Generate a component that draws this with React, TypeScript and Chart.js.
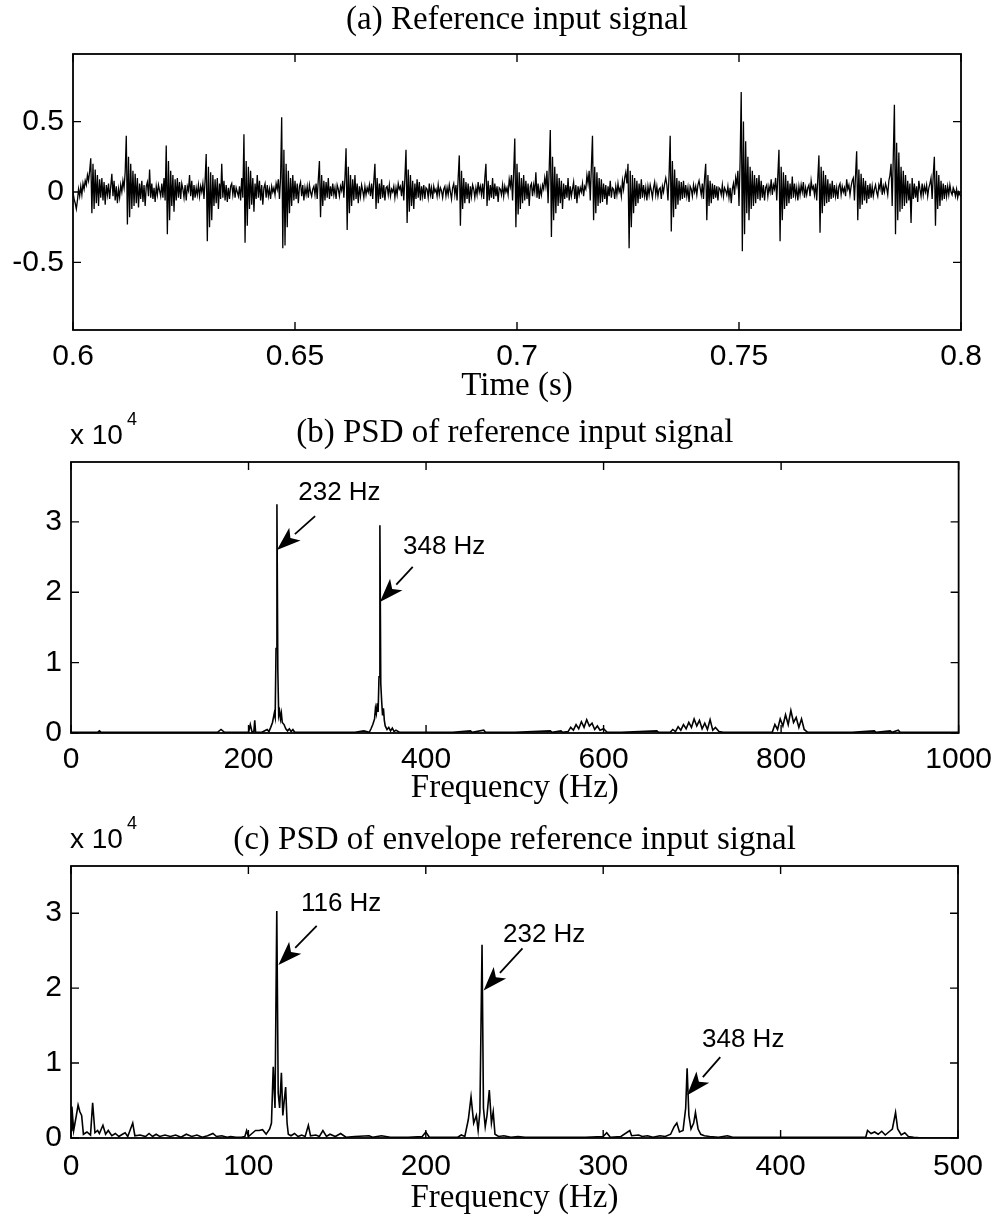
import React, { useEffect, useRef } from 'react';
import { Chart, registerables } from 'chart.js';

Chart.register(...registerables);

// ---------- (a) time signal ----------
const timeStart = 0.6;
const timeEnd = 0.8;
const signalA = [
  0.0, -0.05, -0.08, -0.12, -0.06, 0.02, -0.03, 0.04, -0.02, 0.06, 0.02, 0.08, 0.05, 0.12, 0.08, 0.15,
  0.24,
  -0.15, 0.2, -0.12, 0.16, -0.08, 0.12, -0.1, 0.09, -0.04, 0.1, -0.06, 0.07, -0.09, 0.05, -0.02, 0.06, -0.05, 0.04, 0.13, -0.03, 0.08, -0.06, 0.04, -0.08, 0.02, -0.04, 0.05, 0.0, 0.08, 0.03, 0.14,
  0.40,
  -0.23, 0.25, -0.18, 0.2, -0.12, 0.15, -0.1, 0.13, -0.08, 0.1, -0.11, 0.06, -0.05, 0.08, -0.07, 0.05, -0.1, 0.04, 0.07, -0.03, 0.16, -0.04, 0.06, -0.05, 0.03, -0.07, 0.04, -0.02, 0.05, 0.01, -0.03, 0.06, -0.04, 0.1, -0.06,
  0.33,
  -0.30, 0.22, -0.2, 0.15, -0.1, 0.12, -0.14, 0.09, -0.06, 0.1, -0.04, 0.07, -0.05, 0.06, 0.02, -0.04, 0.05, -0.06, 0.04, 0.01, 0.12, -0.03, 0.08, -0.06, 0.05, -0.04, 0.03, -0.02, 0.05, -0.03, 0.04, 0.0, 0.06, -0.05, 0.08,
  0.27,
  -0.35, 0.18, -0.25, 0.14, -0.2, 0.12, -0.1, 0.09, -0.08, 0.1, -0.12, 0.06, -0.05, 0.2, -0.04, 0.08, -0.06, 0.05, -0.07, 0.03, -0.05, 0.04, 0.06, -0.02, 0.05, -0.04, 0.03, 0.0, -0.03, 0.04, -0.06, 0.1, -0.04,
  0.41,
  -0.36, 0.22, -0.24, 0.18, -0.12, 0.15, -0.09, 0.1, -0.14, 0.06, -0.05, 0.12, -0.04, 0.08, -0.06, 0.05, -0.09, 0.03, 0.06, -0.04, 0.05, -0.03, 0.02, -0.05, 0.04, 0.0, 0.03, -0.02, 0.06, 0.02, 0.09, -0.05, 0.1,
  0.53,
  -0.40, 0.3, -0.38, 0.2, -0.25, 0.15, -0.15, 0.1, -0.1, 0.12, -0.06, 0.08, -0.05, 0.06, -0.08, 0.04, 0.07, -0.03, 0.05, -0.06, 0.03, -0.02, 0.04, -0.04, 0.05, 0.0, -0.03, 0.02, 0.04, -0.02, 0.06, -0.05, 0.09,
  0.22,
  -0.18, 0.12, -0.1, 0.08, -0.06, 0.07, -0.04, 0.1, -0.05, 0.04, -0.03, 0.06, -0.02, 0.03, -0.05, 0.05, 0.02, -0.03, 0.04, 0.01, 0.08, -0.04, 0.1,
  0.31,
  -0.27, 0.18, -0.15, 0.12, -0.1, 0.09, -0.06, 0.12, -0.05, 0.06, -0.08, 0.04, -0.03, 0.05, 0.01, -0.04, 0.04, -0.02, 0.03, 0.0, 0.05, -0.03, 0.06, -0.05, 0.08,
  0.2,
  -0.12, 0.1, -0.08, 0.06, -0.05, 0.09, -0.04, 0.05, -0.06, 0.03, 0.04, -0.02, 0.05, -0.03, 0.02, 0.0, 0.04, -0.04, 0.03, -0.02, 0.06, 0.02, 0.04, -0.03, 0.08, -0.06, 0.1,
  0.30,
  -0.22, 0.16, -0.14, 0.12, -0.1, 0.08, -0.12, 0.06, -0.05, 0.09, -0.04, 0.07, -0.06, 0.04, -0.03, 0.05, -0.05, 0.03, 0.02, -0.04, 0.06, -0.02, 0.03, -0.05, 0.04, 0.0, 0.02, -0.03, 0.05, -0.02, 0.03, 0.01, -0.04, 0.02, 0.04, -0.03, 0.03, -0.02, 0.05, 0.0, -0.05, 0.03, 0.06, -0.02, 0.05, -0.06, 0.1,
  0.26,
  -0.24, 0.15, -0.12, 0.1, -0.08, 0.07, -0.05, 0.06, -0.08, 0.04, -0.03, 0.05, 0.02, -0.04, 0.03, -0.02, 0.07, 0.0, 0.04, -0.02, 0.06, -0.05, 0.1,
  0.2,
  -0.1, 0.08, -0.06, 0.05, -0.04, 0.1, -0.05, 0.06, -0.03, 0.04, -0.07, 0.03, 0.02, -0.02, 0.05, -0.03, 0.04, 0.0, 0.03, -0.02, 0.09, 0.04, 0.12, -0.06, 0.14,
  0.38,
  -0.25, 0.2, -0.16, 0.14, -0.12, 0.1, -0.08, 0.12, -0.06, 0.08, -0.05, 0.06, -0.1, 0.04, 0.06, -0.03, 0.05, 0.0, 0.14, -0.04, 0.06, -0.05, 0.03, -0.02, 0.05, 0.02, 0.1, 0.04, 0.15, -0.08, 0.16,
  0.44,
  -0.32, 0.25, -0.2, 0.18, -0.15, 0.13, -0.1, 0.1, -0.08, 0.08, -0.12, 0.06, -0.05, 0.05, -0.04, 0.1, -0.06, 0.04, -0.03, 0.02, 0.07, -0.05, 0.05, -0.08, 0.04, -0.02, 0.03, 0.0, 0.06, -0.03, 0.04, 0.02, 0.12, 0.06, 0.15, -0.06, 0.18,
  0.40,
  -0.2, 0.18, -0.15, 0.14, -0.1, 0.1, -0.08, 0.09, -0.07, 0.06, -0.05, 0.05, -0.09, 0.04, -0.03, 0.08, -0.04, 0.03, 0.02, -0.05, 0.04, -0.02, 0.06, 0.0, 0.03, -0.03, 0.08, 0.02, 0.1, 0.14, 0.06,
  0.2,
  -0.40, 0.15, -0.25, 0.12, -0.15, 0.1, -0.1, 0.08, -0.08, 0.06, -0.05, 0.09, -0.04, 0.05, -0.03, 0.03, -0.06, 0.04, -0.02, 0.05, 0.01, -0.04, 0.03, 0.07, -0.02, 0.04, -0.03, 0.02, 0.03, -0.05, 0.04, 0.0, 0.06, 0.1, 0.05, -0.06, 0.12,
  0.40,
  -0.28, 0.22, -0.18, 0.16, -0.12, 0.1, -0.09, 0.08, -0.06, 0.07, -0.05, 0.08, -0.04, 0.05, -0.03, 0.03, -0.07, 0.04, 0.02, -0.03, 0.05, 0.0, 0.04, -0.02, 0.05, 0.08, 0.03, -0.02, 0.06, -0.05, 0.1,
  0.2,
  -0.2, 0.12, -0.1, 0.08, -0.08, 0.06, -0.05, 0.05, -0.04, 0.04, -0.06, 0.03, 0.02, -0.02, 0.05, -0.03, 0.03, 0.01, -0.02, 0.04, -0.04, 0.03, -0.08, 0.02, 0.06, -0.02, 0.1, 0.05, 0.15, -0.1, 0.22,
  0.71,
  -0.42, 0.5, -0.3, 0.36, -0.15, 0.25, -0.2, 0.18, -0.12, 0.15, -0.1, 0.12, -0.08, 0.1, -0.05, 0.12, -0.06, 0.08, -0.04, 0.05, -0.06, 0.03, 0.05, -0.03, 0.04, 0.0, 0.09, -0.02, 0.05, 0.02, 0.1, -0.06, 0.12,
  0.30,
  -0.35, 0.18, -0.2, 0.14, -0.12, 0.12, -0.1, 0.08, -0.08, 0.06, -0.05, 0.11, -0.04, 0.06, -0.03, 0.03, -0.06, 0.04, -0.02, 0.05, 0.0, 0.07, -0.04, 0.03, -0.02, 0.03, 0.05, -0.03, 0.08, 0.02, 0.04, -0.02, 0.06, -0.06, 0.1,
  0.26,
  -0.29, 0.18, -0.15, 0.15, -0.1, 0.12, -0.08, 0.09, -0.07, 0.06, -0.05, 0.08, -0.04, 0.05, -0.03, 0.03, -0.05, 0.04, 0.06, -0.02, 0.04, 0.0, 0.03, -0.03, 0.09, 0.02, 0.05, -0.02, 0.04, 0.08, 0.1, -0.06, 0.12,
  0.29,
  -0.2, 0.16, -0.12, 0.13, -0.09, 0.1, -0.06, 0.08, -0.08, 0.05, -0.05, 0.06, -0.04, 0.04, -0.03, 0.02, 0.05, 0.0, -0.03, 0.05, 0.02, 0.1, -0.02, 0.04, 0.0, 0.06, 0.03, -0.02, 0.08, 0.12, 0.2, -0.1, 0.25,
  0.62,
  -0.30, 0.35, -0.2, 0.28, -0.14, 0.18, -0.12, 0.15, -0.1, 0.12, -0.08, 0.08, -0.06, 0.06, -0.22, 0.1, -0.05, 0.06, -0.04, 0.04, -0.07, 0.08, 0.02, -0.03, 0.06, -0.02, 0.04, 0.0, 0.05, -0.03, 0.03, 0.06, 0.1, -0.05, 0.12,
  0.25,
  -0.24, 0.15, -0.12, 0.12, -0.1, 0.08, -0.06, 0.06, -0.05, 0.05, -0.03, 0.04, -0.02, 0.05, 0.0, -0.02, 0.03, 0.01, -0.03, 0.02, -0.04, 0.0, -0.02, -0.03,
];
const timeTicks = [0.6, 0.65, 0.7, 0.75, 0.8];
const ampTicks = [-0.5, 0, 0.5];

// ---------- (b) PSD of reference signal (x 10^4) ----------
const freqB = [
  0, 10, 20, 30, 32, 34, 50, 80, 110, 140,
  165, 169, 173, 190, 200, 202, 204, 206, 207, 208,
  215, 221, 223, 225, 227, 229, 230, 231, 232, 233,
  234, 235, 236, 237, 238, 240, 242, 244, 246, 248,
  250, 252, 260, 280, 300, 320, 330, 336, 338, 340,
  342, 343, 344, 345, 346, 347, 348, 349, 350, 351,
  352, 353, 354, 356, 358, 360, 362, 364, 366, 370,
  400, 430, 450, 452, 465, 467, 500, 540, 542, 552,
  554, 560, 563, 566, 569, 572, 575, 578, 581, 584,
  587, 590, 593, 596, 600, 604, 620, 660, 662, 675,
  678, 681, 684, 687, 690, 693, 696, 699, 702, 705,
  708, 711, 714, 717, 720, 723, 726, 730, 735, 760,
  790, 793, 796, 799, 802, 805, 808, 811, 814, 817,
  820, 823, 826, 830, 850, 880, 905, 907, 923, 925,
  932, 934, 960, 1000,
];
const psdB = [
  0.01, 0.01, 0.01, 0.01, 0.03, 0.01, 0.01, 0.01, 0.01, 0.01,
  0.01, 0.05, 0.01, 0.01, 0.01, 0.12, 0.01, 0.02, 0.18, 0.01,
  0.01, 0.05, 0.02, 0.08, 0.15, 0.28, 0.22, 1.2, 3.25, 0.9,
  0.25, 0.31, 0.2, 0.28, 0.15, 0.12, 0.06, 0.03, 0.06, 0.02,
  0.05, 0.01, 0.01, 0.01, 0.01, 0.01, 0.03, 0.01, 0.06, 0.12,
  0.2, 0.35, 0.28, 0.42, 0.3, 0.8, 2.95, 0.7, 0.45, 0.25,
  0.35, 0.18, 0.1, 0.05, 0.08, 0.03, 0.07, 0.02, 0.04, 0.01,
  0.01, 0.01, 0.03, 0.01, 0.04, 0.01, 0.01, 0.03, 0.01, 0.03,
  0.01, 0.02, 0.08, 0.04, 0.12, 0.06, 0.16, 0.08, 0.19, 0.1,
  0.14, 0.05, 0.1, 0.04, 0.06, 0.01, 0.01, 0.03, 0.01, 0.01,
  0.05, 0.02, 0.09, 0.04, 0.12, 0.06, 0.15, 0.08, 0.2, 0.1,
  0.18, 0.06, 0.14, 0.05, 0.19, 0.04, 0.08, 0.02, 0.01, 0.01,
  0.01, 0.12, 0.05, 0.2, 0.1, 0.26, 0.12, 0.32, 0.15, 0.22,
  0.08, 0.2, 0.05, 0.01, 0.01, 0.01, 0.03, 0.01, 0.03, 0.01,
  0.04, 0.01, 0.01, 0.01,
];
const freqTicksB = [0, 200, 400, 600, 800, 1000];

// ---------- (c) PSD of envelope (x 10^4) ----------
const freqC = [
  0, 0.5, 1.5, 3, 4, 5, 6, 7, 9, 11,
  12.2, 13.5, 15, 16, 18, 19.5, 21, 23, 25, 27,
  29, 30.5, 32, 34.8, 36, 39, 42, 44, 46, 48,
  50, 53, 56, 59, 62, 65, 68, 71, 74, 77,
  80, 82, 85, 88, 90, 93, 96, 98, 99, 100,
  102, 104, 106, 108, 110, 112, 113, 114, 115, 116,
  116.8, 117.6, 118.6, 119.4, 120.2, 121, 121.8, 122.5, 124, 126,
  128, 130, 132, 133.8, 135, 138, 140, 142, 144, 146,
  149, 152, 155, 160, 168, 170, 175, 180, 190, 198,
  200, 202, 210, 218, 220, 222, 224, 225.5, 227, 228.5,
  229.5, 230.5, 231.7, 232.5, 233.5, 234.5, 235.8, 237, 238, 239,
  241, 244, 248, 252, 256, 260, 270, 280, 290, 300,
  302, 304, 310, 315, 316, 320, 322, 325, 328, 332,
  335, 338, 340, 341.5, 343, 345, 346.5, 347.3, 348.3, 349.5,
  351, 352, 353.5, 355, 357, 360, 365, 370, 373, 380,
  400, 420, 440, 448, 449, 451, 453, 455, 457, 459,
  461, 463, 464.8, 466, 468, 470, 472, 475, 480, 500,
];
const psdC = [
  0.1, 0.42, 0.1, 0.3, 0.44, 0.35, 0.3, 0.05, 0.08, 0.04,
  0.47, 0.07, 0.1, 0.06, 0.17, 0.05, 0.1, 0.03, 0.06, 0.02,
  0.05, 0.07, 0.02, 0.2, 0.03, 0.04, 0.02, 0.06, 0.02, 0.05,
  0.02, 0.04, 0.02, 0.04, 0.01, 0.05, 0.02, 0.04, 0.01, 0.03,
  0.06, 0.02, 0.03, 0.01, 0.02, 0.01, 0.01, 0.02, 0.1, 0.02,
  0.06, 0.1, 0.1, 0.11, 0.05, 0.12, 0.2, 0.95, 0.4, 3.03,
  0.6, 0.4, 0.87, 0.3, 0.5, 0.68, 0.2, 0.05, 0.03, 0.06,
  0.02, 0.04, 0.02, 0.17, 0.03, 0.04, 0.02, 0.1, 0.02, 0.05,
  0.02, 0.06, 0.01, 0.02, 0.03, 0.01, 0.03, 0.01, 0.01, 0.02,
  0.08, 0.01, 0.01, 0.01, 0.04, 0.02, 0.25, 0.55, 0.2, 0.3,
  0.1, 0.35, 2.58, 0.4, 0.15, 0.3, 0.64, 0.2, 0.35, 0.05,
  0.02, 0.03, 0.01, 0.02, 0.01, 0.01, 0.01, 0.01, 0.01, 0.02,
  0.07, 0.01, 0.02, 0.1, 0.03, 0.04, 0.02, 0.03, 0.01, 0.03,
  0.02, 0.05, 0.15, 0.2, 0.08, 0.1, 0.4, 0.93, 0.3, 0.12,
  0.2, 0.34, 0.12, 0.05, 0.03, 0.02, 0.01, 0.03, 0.01, 0.01,
  0.01, 0.01, 0.01, 0.01, 0.1, 0.06, 0.08, 0.05, 0.09, 0.04,
  0.08, 0.12, 0.34, 0.12, 0.04, 0.07, 0.02, 0.01, 0.0, 0.0,
];
const freqTicksC = [0, 100, 200, 300, 400, 500];
const psdTicks = [0, 1, 2, 3];

// ---------- annotations ----------
type Arrow = { text: string; tipX: number; tipY: number; tailX: number; tailY: number; labelX: number; labelY: number };
const arrowsB: Arrow[] = [
  { text: '232 Hz', tipX: 232, tipY: 2.6, tailX: 275, tailY: 3.08, labelX: 256, labelY: 3.41 },
  { text: '348 Hz', tipX: 348, tipY: 1.86, tailX: 385, tailY: 2.36, labelX: 374, labelY: 2.65 },
];
const arrowsC: Arrow[] = [
  { text: '116 Hz', tipX: 116.9, tipY: 2.31, tailX: 138.5, tailY: 2.83, labelX: 129.6, labelY: 3.13 },
  { text: '232 Hz', tipX: 232.6, tipY: 1.97, tailX: 254.5, tailY: 2.53, labelX: 243.5, labelY: 2.71 },
  { text: '348 Hz', tipX: 347.3, tipY: 0.57, tailX: 366, tailY: 1.08, labelX: 355.7, labelY: 1.31 },
];

const SANS = "'Liberation Sans', Arial, Helvetica, sans-serif";
const SERIF = "'Liberation Serif', 'Times New Roman', Times, serif";
const TICK_SIZE = 30;
const TITLE_SIZE = 33;
const NOTE_SIZE = 26;

const framePlugin = {
  id: 'frame',
  afterDatasetsDraw(chart: any, _args: any, opts: any) {
    const { ctx, chartArea } = chart;
    const { left, right, top, bottom } = chartArea;
    const xs = chart.scales.x;
    const ys = chart.scales.y;
    ctx.save();
    ctx.strokeStyle = '#000';
    ctx.fillStyle = '#000';
    ctx.lineWidth = 1.8;
    ctx.strokeRect(left, top, right - left, bottom - top);
    ctx.lineWidth = 1.4;
    ctx.beginPath();
    const tl = 8;
    for (const t of xs.ticks) {
      const px = xs.getPixelForValue(t.value);
      ctx.moveTo(px, bottom);
      ctx.lineTo(px, bottom - tl);
      ctx.moveTo(px, top);
      ctx.lineTo(px, top + tl);
    }
    for (const t of ys.ticks) {
      const py = ys.getPixelForValue(t.value);
      ctx.moveTo(left, py);
      ctx.lineTo(left + tl, py);
      ctx.moveTo(right, py);
      ctx.lineTo(right - tl, py);
    }
    ctx.stroke();

    const arrows: Arrow[] = opts.arrows || [];
    for (const a of arrows) {
      const tx = xs.getPixelForValue(a.tipX);
      const ty = ys.getPixelForValue(a.tipY);
      const sx = xs.getPixelForValue(a.tailX);
      const sy = ys.getPixelForValue(a.tailY);
      const ang = Math.atan2(ty - sy, tx - sx);
      const L = 24;
      const W = 8.5;
      const bx = tx - L * Math.cos(ang);
      const by = ty - L * Math.sin(ang);
      ctx.lineWidth = 1.8;
      ctx.beginPath();
      ctx.moveTo(sx, sy);
      ctx.lineTo(bx, by);
      ctx.stroke();
      ctx.beginPath();
      ctx.moveTo(tx, ty);
      ctx.lineTo(bx - W * Math.sin(ang), by + W * Math.cos(ang));
      ctx.lineTo(bx + 6 * Math.cos(ang), by + 6 * Math.sin(ang));
      ctx.lineTo(bx + W * Math.sin(ang), by - W * Math.cos(ang));
      ctx.closePath();
      ctx.fill();
      ctx.font = `${NOTE_SIZE}px ${SANS}`;
      ctx.textAlign = 'left';
      ctx.textBaseline = 'middle';
      ctx.fillText(a.text, xs.getPixelForValue(a.labelX), ys.getPixelForValue(a.labelY));
    }

    if (opts.exponent) {
      ctx.font = `28px ${SANS}`;
      ctx.textAlign = 'left';
      ctx.textBaseline = 'middle';
      const base = 'x 10';
      ctx.fillText(base, left - 1, top - 26);
      const w = ctx.measureText(base).width;
      ctx.font = `18px ${SANS}`;
      ctx.fillText('4', left + w + 3, top - 42);
    }
    ctx.restore();
  },
};

type PanelCfg = {
  top: number;
  height: number;
  plotLeft: number;
  plotRight: number;
  title: string;
  titlePadTop: number;
  titlePadBottom: number;
  xAxisH: number;
  xTickPad: number;
  xTitle: string;
  xTitlePadBottom: number;
  xMin: number;
  xMax: number;
  yMin: number;
  yMax: number;
  xTicks: number[];
  yTicks: number[];
  points: { x: number; y: number }[];
  lineWidth: number;
  arrows: Arrow[];
  exponent: boolean;
};

const pointsA = signalA.map((v, i) => ({
  x: timeStart + (i * (timeEnd - timeStart)) / (signalA.length - 1),
  y: v,
}));
const pointsB = freqB.map((f, i) => ({ x: f, y: psdB[i] }));
const pointsC = freqC.map((f, i) => ({ x: f, y: psdC[i] }));

const panels: PanelCfg[] = [
  {
    top: 0, height: 410, plotLeft: 73, plotRight: 961,
    title: '(a) Reference input signal', titlePadTop: 0.2, titlePadBottom: 14.2,
    xAxisH: 80, xTickPad: 9, xTitle: 'Time (s)', xTitlePadBottom: 4.2,
    xMin: 0.6, xMax: 0.8, yMin: -0.98, yMax: 0.98,
    xTicks: timeTicks, yTicks: ampTicks, points: pointsA, lineWidth: 1.3,
    arrows: [], exponent: false,
  },
  {
    top: 410, height: 400, plotLeft: 71, plotRight: 959,
    title: '(b) PSD of reference input signal', titlePadTop: 3.2, titlePadBottom: 9.2,
    xAxisH: 77, xTickPad: 9, xTitle: 'Frequency (Hz)', xTitlePadBottom: 2.2,
    xMin: 0, xMax: 1000, yMin: 0, yMax: 3.85,
    xTicks: freqTicksB, yTicks: psdTicks, points: pointsB, lineWidth: 1.6,
    arrows: arrowsB, exponent: true,
  },
  {
    top: 810, height: 409, plotLeft: 71, plotRight: 958,
    title: '(c) PSD of envelope reference input signal', titlePadTop: 10.2, titlePadBottom: 6.2,
    xAxisH: 81, xTickPad: 11, xTitle: 'Frequency (Hz)', xTitlePadBottom: 1.2,
    xMin: 0, xMax: 500, yMin: 0, yMax: 3.63,
    xTicks: freqTicksC, yTicks: psdTicks, points: pointsC, lineWidth: 1.6,
    arrows: arrowsC, exponent: true,
  },
];

function PanelChart({ cfg }: { cfg: PanelCfg }) {
  const ref = useRef<HTMLCanvasElement>(null);
  useEffect(() => {
    const canvas = ref.current!;
    const chart = new Chart(canvas, {
      type: 'line',
      data: {
        datasets: [
          {
            data: cfg.points,
            borderColor: '#000',
            borderWidth: cfg.lineWidth,
            pointRadius: 0,
            tension: 0,
            fill: false,
          },
        ],
      },
      options: {
        animation: false,
        responsive: false,
        events: [],
        layout: { padding: { left: 0, right: 1001 - cfg.plotRight, top: 0, bottom: 0 } },
        plugins: {
          legend: { display: false },
          tooltip: { enabled: false },
          title: {
            display: true,
            fullSize: false,
            text: cfg.title,
            color: '#000',
            font: { family: SERIF, size: TITLE_SIZE, weight: 'normal', lineHeight: 1.2 },
            padding: { top: cfg.titlePadTop, bottom: cfg.titlePadBottom },
          },
          frame: { arrows: cfg.arrows, exponent: cfg.exponent },
        } as any,
        scales: {
          x: {
            type: 'linear',
            min: cfg.xMin,
            max: cfg.xMax,
            grid: { display: false, drawTicks: false },
            border: { display: false },
            ticks: {
              color: '#000',
              font: { family: SANS, size: TICK_SIZE, lineHeight: 1.2 },
              padding: cfg.xTickPad,
              autoSkip: false,
              maxRotation: 0,
              callback: (v: any) => String(v),
            },
            afterBuildTicks: (s: any) => {
              s.ticks = cfg.xTicks.map((v) => ({ value: v }));
            },
            afterFit: (s: any) => {
              s.height = cfg.xAxisH;
            },
            title: {
              display: true,
              text: cfg.xTitle,
              color: '#000',
              font: { family: SERIF, size: TITLE_SIZE, lineHeight: 1.2 },
              padding: { top: 0, bottom: cfg.xTitlePadBottom },
            },
          },
          y: {
            type: 'linear',
            min: cfg.yMin,
            max: cfg.yMax,
            grid: { display: false, drawTicks: false },
            border: { display: false },
            ticks: {
              color: '#000',
              font: { family: SANS, size: TICK_SIZE, lineHeight: 1.2 },
              padding: 9,
              callback: (v: any) => String(v),
            },
            afterBuildTicks: (s: any) => {
              s.ticks = cfg.yTicks.map((v) => ({ value: v }));
            },
            afterFit: (s: any) => {
              s.width = cfg.plotLeft;
            },
          },
        },
      },
      plugins: [framePlugin],
    } as any);
    return () => chart.destroy();
  }, [cfg]);
  return (
    <canvas
      ref={ref}
      width={1001}
      height={cfg.height}
      style={{ position: 'absolute', left: 0, top: cfg.top, width: 1001, height: cfg.height }}
    />
  );
}

export default function App() {
  return (
    <div style={{ position: 'absolute', left: 0, top: 0, width: 1001, height: 1219, background: '#fff' }}>
      {panels.map((p, i) => (
        <PanelChart key={i} cfg={p} />
      ))}
    </div>
  );
}
